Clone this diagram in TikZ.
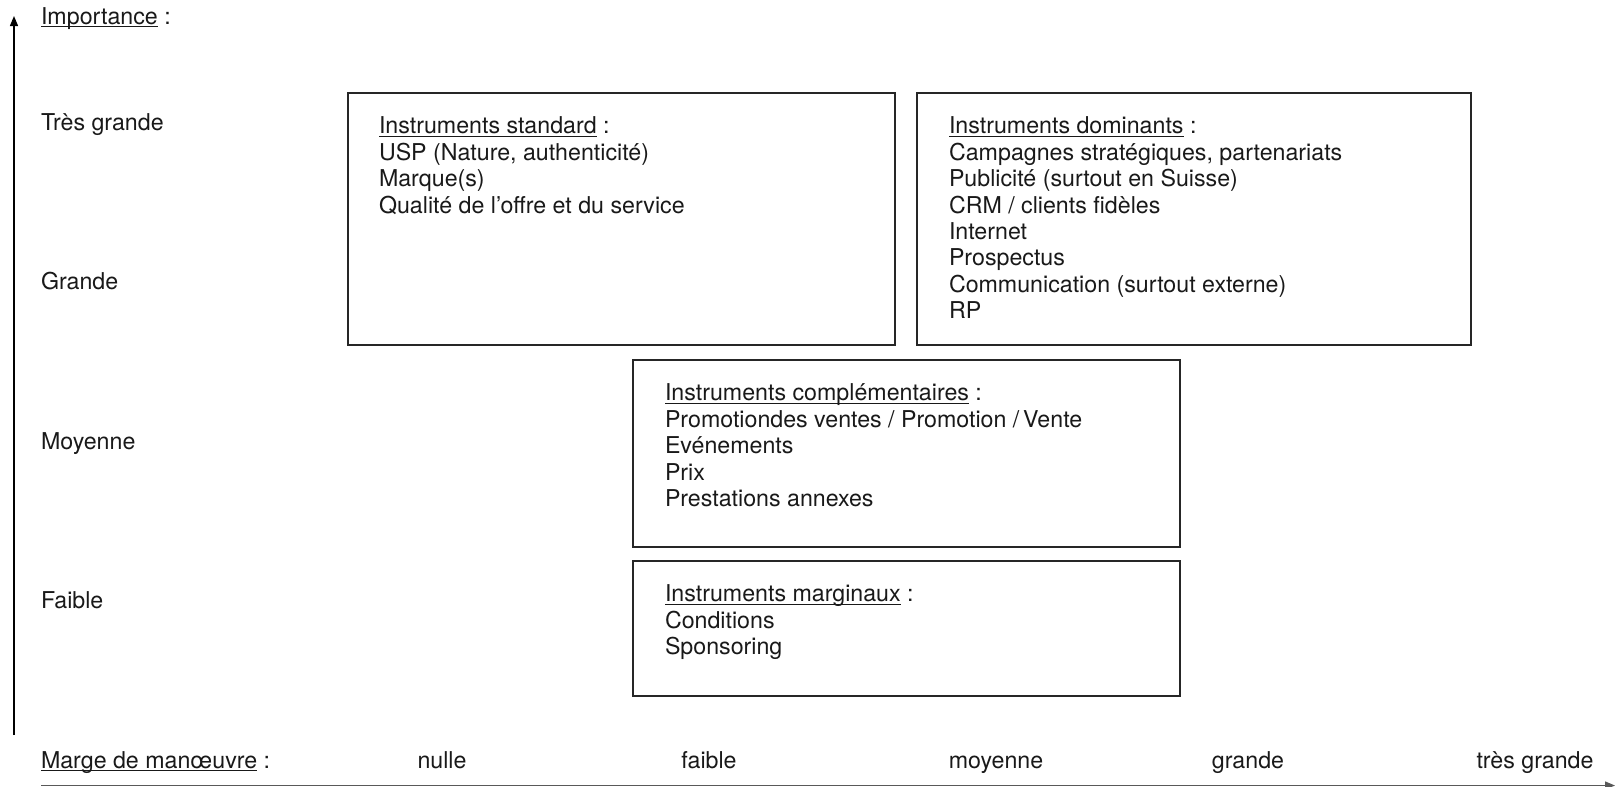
\documentclass[tikz,border=0pt]{standalone}
\usepackage{fontspec}
\setmainfont{TeX Gyre Heros}
\usetikzlibrary{arrows.meta,calc}
\newcommand\myul[1]{\setbox0\hbox{#1}\rlap{\rule[-2.6pt]{\wd0}{0.9pt}}\box0\relax}
\begin{document}
\begin{tikzpicture}[x=1pt,y=-1pt,
  every node/.style={inner sep=0pt,outer sep=0pt},
  lbl/.style={font=\fontsize{23.2}{26.4}\selectfont,text=black!90,text height=17pt,text depth=5pt},
  boxtext/.style={font=\fontsize{23.2}{26.4}\selectfont,text=black!90,align=left,anchor=north west},
  frame/.style={draw=black!85,line width=1.2pt,anchor=north west},
  axis/.style={line width=1.3pt,-{Triangle[length=10pt,width=8pt]}}
]
\useasboundingbox (0,0) rectangle (1615,787);
% axes
\coordinate (yo) at (14,735);
\coordinate (yt) at (14,16);
\coordinate (xo) at (41,785.5);
\coordinate (xt) at (1615,785.5);
\draw[axis] (yo) -- (yt);
\draw[axis,draw=black!65] (xo) -- (xt);
% vertical labels
\node[lbl,anchor=west] (imp) at (41,18) {\myul{Importance} :};
\node[lbl,anchor=west] (tg) at (41,124) {Très grande};
\node[lbl,anchor=west] (gr) at (41,283) {Grande};
\node[lbl,anchor=west] (mo) at (41,443) {Moyenne};
\node[lbl,anchor=west] (fa) at (41,602) {Faible};
% horizontal labels
\node[lbl,anchor=west] (marge) at (41,762) {\myul{Marge de manœuvre} :};
\node[lbl] (h1) at (442,762) {nulle};
\node[lbl] (h2) at (709,762) {faible};
\node[lbl] (h3) at (996,762) {moyenne};
\node[lbl] (h4) at (1248,762) {grande};
\node[lbl] (h5) at (1535,762) {très grande};
% boxes
\node[frame,minimum width=547pt,minimum height=252pt] (b1) at (348,93) {};
\node[frame,minimum width=554pt,minimum height=252pt] (b2) at (917,93) {};
\node[frame,minimum width=547pt,minimum height=187pt] (b3) at (633,360) {};
\node[frame,minimum width=547pt,minimum height=135pt] (b4) at (633,561) {};
\node[boxtext] (t1) at ($(b1.north west)+(31,24)$) {\myul{Instruments standard} :\\USP (Nature, authenticité)\\Marque(s)\\Qualité de l’offre et du service};
\node[boxtext] (t2) at ($(b2.north west)+(32,24)$) {\myul{Instruments dominants} :\\Campagnes stratégiques, partenariats\\Publicité (surtout en Suisse)\\CRM / clients fidèles\\Internet\\Prospectus\\Communication (surtout externe)\\RP};
\node[boxtext] (t3) at ($(b3.north west)+(32,24)$) {\myul{Instruments complémentaires} :\\Promotiondes ventes / Promotion /\,Vente\\Evénements\\Prix\\Prestations annexes};
\node[boxtext] (t4) at ($(b4.north west)+(32,24)$) {\myul{Instruments marginaux} :\\Conditions\\Sponsoring};
\end{tikzpicture}
\end{document}
